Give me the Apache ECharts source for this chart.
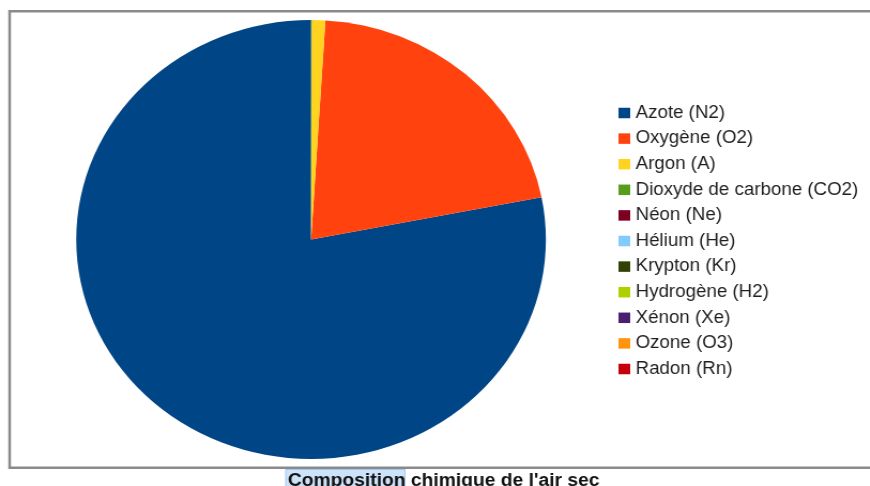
<!DOCTYPE html>
<html>
<head>
<meta charset="utf-8">
<script src="https://cdn.jsdelivr.net/npm/echarts@6/dist/echarts.min.js"></script>
<style>
  html, body { margin: 0; padding: 0; background: #ffffff; overflow: hidden; }
  #wrap { width: 870px; height: 486px; position: relative; overflow: hidden; }
  /* the drawing is laid out on a narrower canvas and widened horizontally */
  #chart { position: absolute; left: 0; top: 0; width: 813px; height: 486px;
           transform: scaleX(1.07); transform-origin: 0 0; }
</style>
</head>
<body>
<div id="wrap"><div id="chart"></div></div>
<script>
// Composition de l'air sec (% en volume)
const gases = [
  'Azote (N2)', 'Oxygène (O2)', 'Argon (A)', 'Dioxyde de carbone (CO2)',
  'Néon (Ne)', 'Hélium (He)', 'Krypton (Kr)', 'Hydrogène (H2)',
  'Xénon (Xe)', 'Ozone (O3)', 'Radon (Rn)'
];
const percents = [
  78.084, 20.946, 0.934, 0.036,
  0.001818, 0.000524, 0.000114, 0.00005,
  0.0000087, 0.000007, 0.000000000000000006
];
const palette = [
  '#004586', '#ff420e', '#ffd320', '#579d1c', '#7e0021', '#83caff',
  '#314004', '#aecf00', '#4b1f6f', '#ff950e', '#c5000b'
];
const chartTitle = 'Composition chimique de l\'air sec';

const chart = echarts.init(document.getElementById('chart'), null, { renderer: 'canvas' });

chart.setOption({
  animation: false,
  color: palette,
  title: {
    text: chartTitle,
    left: 264,
    top: 467,
    z: 10,
    textStyle: {
      fontFamily: 'Liberation Sans, Arial, sans-serif',
      fontSize: 18,
      fontWeight: 'bold',
      color: '#111111'
    }
  },
  graphic: [
    {
      type: 'rect',
      z: -10,
      shape: { x: 9, y: 11.3, width: 900, height: 456.4 },
      style: { fill: 'none', stroke: '#8a8a8a', lineWidth: 2.5 }
    },
    {
      type: 'rect',
      z: -5,
      shape: { x: 267, y: 469.5, width: 111.5, height: 22 },
      style: { fill: '#cde3fa', stroke: '#a3c8ee', lineWidth: 1 }
    }
  ],
  legend: {
    orient: 'vertical',
    left: 573,
    top: 99,
    itemWidth: 11,
    itemHeight: 10.5,
    itemGap: 7.6,
    icon: 'rect',
    selectedMode: false,
    textStyle: {
      fontFamily: 'Liberation Sans, Arial, sans-serif',
      fontSize: 17.5,
      lineHeight: 18,
      color: '#1e1e1e'
    },
    data: gases
  },
  series: [
    {
      type: 'pie',
      center: [290.7, 239.5],
      radius: [0, 219.5],
      startAngle: 90,
      clockwise: false,
      label: { show: false },
      labelLine: { show: false },
      silent: true,
      itemStyle: { borderWidth: 0 },
      emphasis: { disabled: true },
      data: gases.map((name, i) => ({ name: name, value: percents[i] }))
    }
  ]
});
</script>
</body>
</html>
